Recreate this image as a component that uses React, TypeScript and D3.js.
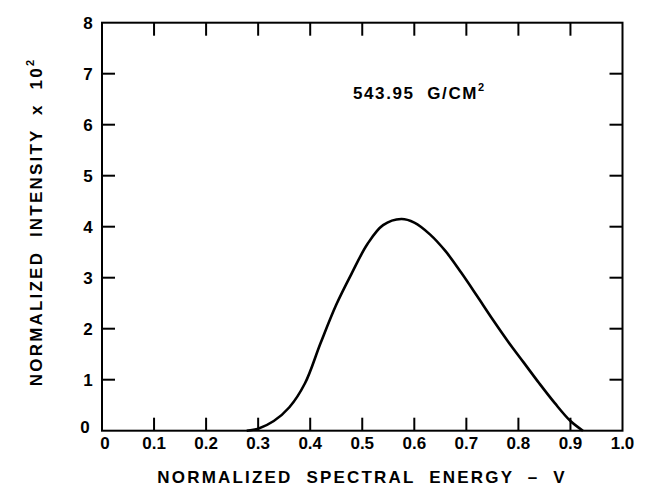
import React from "react";
import * as d3 from "d3";

const xTicks = [0, 0.1, 0.2, 0.3, 0.4, 0.5, 0.6, 0.7, 0.8, 0.9, 1.0];
const xTickLabels = ["0", "0.1", "0.2", "0.3", "0.4", "0.5", "0.6", "0.7", "0.8", "0.9", "1.0"];
const yTicks = [0, 1, 2, 3, 4, 5, 6, 7, 8];
const yTickLabels = ["0", "1", "2", "3", "4", "5", "6", "7", "8"];

const energy = [0.278, 0.3, 0.33, 0.36, 0.39, 0.42, 0.45, 0.48, 0.51, 0.54, 0.575, 0.6, 0.63, 0.66, 0.69, 0.72, 0.75, 0.78, 0.81, 0.84, 0.87, 0.9, 0.924];
const intensity = [0, 0.04, 0.19, 0.46, 0.93, 1.72, 2.47, 3.09, 3.66, 4.03, 4.15, 4.08, 3.85, 3.52, 3.1, 2.65, 2.19, 1.75, 1.34, 0.93, 0.54, 0.19, 0];

const W = 647;
const H = 489;
const FONT = "'Liberation Sans', Arial, sans-serif";

export default function App() {
  const x = d3.scaleLinear().domain([0, 1]).range([102, 622.5]);
  const y = d3.scaleLinear().domain([0, 8]).range([430.7, 22.7]);
  const pts = energy.map((e, i) => [e, intensity[i]] as [number, number]);
  const line = d3
    .line<[number, number]>()
    .x((d) => x(d[0]))
    .y((d) => y(d[1]))
    .curve(d3.curveCatmullRom.alpha(0.5));
  const tl = 13;
  return (
    <svg
      width={W}
      height={H}
      style={{ position: "absolute", left: 0, top: 0, background: "#fff" }}
    >
      <rect x={0} y={0} width={W} height={H} fill="#fff" />
      <rect
        x={x(0)}
        y={y(8)}
        width={x(1) - x(0)}
        height={y(0) - y(8)}
        fill="none"
        stroke="#000"
        strokeWidth={2}
      />
      {xTicks.slice(1, -1).map((t) => (
        <g key={"xt" + t}>
          <line x1={x(t)} x2={x(t)} y1={y(0)} y2={y(0) - tl} stroke="#000" strokeWidth={2} />
          <line x1={x(t)} x2={x(t)} y1={y(8)} y2={y(8) + tl} stroke="#000" strokeWidth={2} />
        </g>
      ))}
      {yTicks.slice(1, -1).map((t) => (
        <g key={"yt" + t}>
          <line x1={x(0)} x2={x(0) + tl} y1={y(t)} y2={y(t)} stroke="#000" strokeWidth={2} />
          <line x1={x(1)} x2={x(1) - tl} y1={y(t)} y2={y(t)} stroke="#000" strokeWidth={2} />
        </g>
      ))}
      {xTicks.map((t, i) => (
        <text
          key={"xl" + t}
          x={x(t) + (i === 0 ? 3 : 0)}
          y={449}
          textAnchor="middle"
          fontFamily={FONT}
          fontWeight="bold"
          fontSize={17}
        >
          {xTickLabels[i]}
        </text>
      ))}
      {yTicks.map((t, i) => (
        <text
          key={"yl" + t}
          x={i === 0 ? 85 : 88}
          y={y(t) + (i === 0 ? 2 : 6)}
          textAnchor="middle"
          fontFamily={FONT}
          fontWeight="bold"
          fontSize={17}
        >
          {yTickLabels[i]}
        </text>
      ))}
      <path d={line(pts) || ""} fill="none" stroke="#000" strokeWidth={2.6} strokeLinejoin="round" />
      <text x={353} y={99} fontFamily={FONT} fontWeight="bold" fontSize={17} letterSpacing={1.6} style={{ whiteSpace: "pre" }}>
        {"543.95  G/CM"}
        <tspan dy={-8} fontSize={11}>2</tspan>
      </text>
      <text
        x={362}
        y={483}
        textAnchor="middle"
        fontFamily={FONT}
        fontWeight="bold"
        fontSize={17}
        letterSpacing={2.2}
        style={{ whiteSpace: "pre" }}
      >
        {"NORMALIZED  SPECTRAL  ENERGY  –  V"}
      </text>
      <text
        transform={`translate(42,222) rotate(-90)`}
        textAnchor="middle"
        fontFamily={FONT}
        fontWeight="bold"
        fontSize={17}
        letterSpacing={2.2}
        style={{ whiteSpace: "pre" }}
      >
        {"NORMALIZED  INTENSITY  x  10"}
        <tspan dy={-8} fontSize={11}>2</tspan>
      </text>
    </svg>
  );
}
